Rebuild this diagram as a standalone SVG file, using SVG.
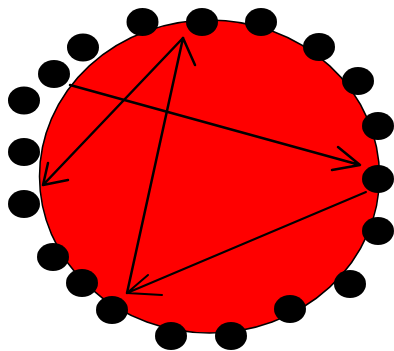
<svg xmlns="http://www.w3.org/2000/svg" width="394" height="351" viewBox="0 0 394 351">
<style>
.dot{fill:#000}
.ln{stroke:#000;stroke-width:2.5;fill:none;stroke-linecap:round;stroke-linejoin:round}
.thin{stroke-width:2}
</style>
<rect width="394" height="351" fill="#fff"/>
<g id="disc">
<ellipse cx="209.5" cy="176.5" rx="170" ry="156.5" fill="#ff0000" stroke="#000" stroke-width="1.5"/>
</g>
<g id="dots">
<ellipse id="d1" class="dot" cx="142.5" cy="22" rx="16" ry="14"/>
<ellipse id="d2" class="dot" cx="202" cy="22" rx="16" ry="14"/>
<ellipse id="d3" class="dot" cx="261" cy="22" rx="16" ry="14"/>
<ellipse id="d4" class="dot" cx="319" cy="47" rx="16" ry="14"/>
<ellipse id="d5" class="dot" cx="358" cy="81" rx="16" ry="14"/>
<ellipse id="d6" class="dot" cx="378" cy="126" rx="16" ry="14"/>
<ellipse id="d7" class="dot" cx="378" cy="179" rx="16" ry="14"/>
<ellipse id="d8" class="dot" cx="378" cy="231" rx="16" ry="14"/>
<ellipse id="d9" class="dot" cx="350" cy="284" rx="16" ry="14"/>
<ellipse id="d10" class="dot" cx="290" cy="309" rx="16" ry="14"/>
<ellipse id="d11" class="dot" cx="231" cy="336" rx="16" ry="14"/>
<ellipse id="d12" class="dot" cx="171" cy="336" rx="16" ry="14"/>
<ellipse id="d13" class="dot" cx="112" cy="310" rx="16" ry="14"/>
<ellipse id="d14" class="dot" cx="82" cy="283" rx="16" ry="14"/>
<ellipse id="d15" class="dot" cx="53" cy="257" rx="16" ry="14"/>
<ellipse id="d16" class="dot" cx="24" cy="204" rx="16" ry="14"/>
<ellipse id="d17" class="dot" cx="24" cy="152" rx="16" ry="14"/>
<ellipse id="d18" class="dot" cx="24" cy="100.5" rx="16" ry="14"/>
<ellipse id="d19" class="dot" cx="54" cy="74" rx="16" ry="14"/>
<ellipse id="d20" class="dot" cx="83" cy="47.5" rx="16" ry="14"/>
</g>
<g id="connectors">
<path class="ln" d="M70 85 L360 165 M338 147 L360 165 L332 170"/>
<path class="ln" d="M183 38 L43 185 M48 163 L43 185 L68 180"/>
<path class="ln" d="M127 293 L183 38 M195 65 L183 38"/>
<path class="ln thin" d="M366 192 L127 293 M148 275 L127 293 L162 295"/>
</g>
</svg>
